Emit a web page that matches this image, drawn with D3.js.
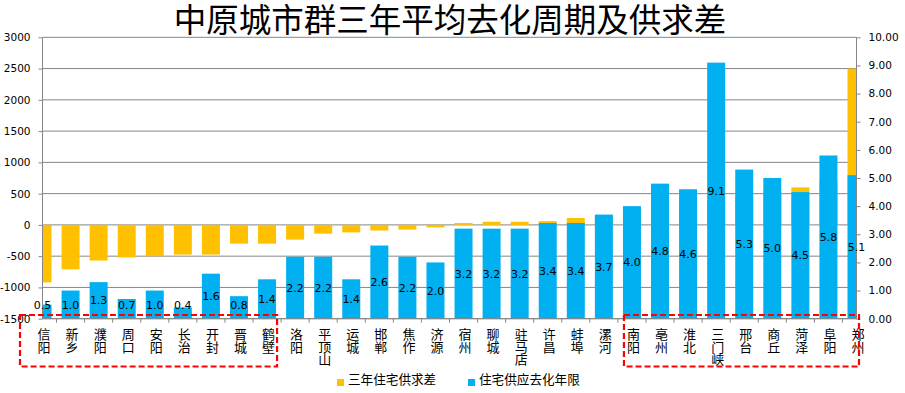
<!DOCTYPE html>
<html>
<head>
<meta charset="utf-8">
<script src="https://cdn.jsdelivr.net/npm/d3@7"></script>
<style>
  body { margin: 0; background: #fff; }
  text { font-family: "DejaVu Sans", sans-serif; }
  .cjk { font-family: "Noto Sans CJK SC", sans-serif; }
</style>
</head>
<body>
<script>
// 城市（按三年住宅供求差排序）
var cities = ["信阳", "新乡", "濮阳", "周口", "安阳", "长治", "开封", "晋城", "鹤壁", "洛阳",
    "平顶山", "运城", "邯郸", "焦作", "济源", "宿州", "聊城", "驻马店", "许昌", "蚌埠",
    "漯河", "南阳", "亳州", "淮北", "三门峡", "邢台", "商丘", "菏泽", "阜阳", "郑州"];

// 三年住宅供求差（左轴）
var gapValues = [-920, -710, -570, -520, -500, -475, -475, -300, -300, -235,
    -140, -120, -90, -75, -40, 30, 50, 50, 60, 110,
    140, 200, 260, 320, 380, 450, 520, 600, 700, 2500];

// 住宅供应去化年限（右轴）
var yearValues = [0.5, 1.0, 1.3, 0.7, 1.0, 0.4, 1.6, 0.8, 1.4, 2.2,
    2.2, 1.4, 2.6, 2.2, 2.0, 3.2, 3.2, 3.2, 3.4, 3.4,
    3.7, 4.0, 4.8, 4.6, 9.1, 5.3, 5.0, 4.5, 5.8, 5.1];

var leftTicks = [-1500, -1000, -500, 0, 500, 1000, 1500, 2000, 2500, 3000];
var rightTicks = [0, 1, 2, 3, 4, 5, 6, 7, 8, 9, 10];

var title = "中原城市群三年平均去化周期及供求差";
var legendNames = ["三年住宅供求差", "住宅供应去化年限"];

var orange = "#FFC000";
var blue = "#00B0F0";
var gridColor = "#868686";

var width = 905;
var height = 393;
var plotL = 42.5, plotR = 856.5, plotT = 37.3, plotB = 318.7;

var svg = d3.select("body")
    .append("svg")
    .attr("width", width)
    .attr("height", height);

var x = d3.scalePoint()
    .domain(cities)
    .range([plotL, plotR]);

var yLeft = d3.scaleLinear()
    .domain([-1500, 3000])
    .range([plotB, plotT]);

var yRight = d3.scaleLinear()
    .domain([0, 10])
    .range([plotB, plotT]);

var barWidth = 18;

// title
svg.append("text")
    .attr("class", "cjk")
    .attr("x", 450)
    .attr("y", 32)
    .attr("text-anchor", "middle")
    .style("font-size", "32.5px")
    .text(title);

// gridlines
svg.append("g")
    .selectAll("line")
    .data(leftTicks)
    .enter()
    .append("line")
    .attr("x1", plotL)
    .attr("x2", plotR)
    .attr("y1", function(d) { return yLeft(d); })
    .attr("y2", function(d) { return yLeft(d); })
    .attr("stroke", gridColor)
    .attr("stroke-width", 1);

svg.append("clipPath")
    .attr("id", "plotclip")
    .append("rect")
    .attr("x", plotL)
    .attr("y", plotT - 2)
    .attr("width", plotR - plotL)
    .attr("height", plotB - plotT + 2);

var bars = svg.append("g").attr("clip-path", "url(#plotclip)");

// orange bars (left axis)
bars.append("g")
    .selectAll("rect")
    .data(cities)
    .enter()
    .append("rect")
    .attr("x", function(d) { return x(d) - barWidth / 2; })
    .attr("width", barWidth)
    .attr("y", function(d, i) { return Math.min(yLeft(0), yLeft(gapValues[i])); })
    .attr("height", function(d, i) { return Math.abs(yLeft(gapValues[i]) - yLeft(0)); })
    .attr("fill", orange);

// blue bars (right axis), drawn on top
bars.append("g")
    .selectAll("rect")
    .data(cities)
    .enter()
    .append("rect")
    .attr("x", function(d) { return x(d) - barWidth / 2; })
    .attr("width", barWidth)
    .attr("y", function(d, i) { return yRight(yearValues[i]); })
    .attr("height", function(d, i) { return plotB - yRight(yearValues[i]); })
    .attr("fill", blue);

// left axis (plain hyphen for negatives, like the original)
var axL = d3.axisLeft(yLeft).tickValues(leftTicks).tickSize(4).tickPadding(8)
    .tickFormat(function(d) { return String(d); });
var gL = svg.append("g").attr("transform", "translate(" + plotL + ",0)").call(axL);
gL.select(".domain").attr("stroke", gridColor).attr("d", "M0," + plotB + "V" + plotT);
gL.selectAll(".tick line").attr("stroke", gridColor);
gL.selectAll(".tick text")
    .style("font-family", "DejaVu Sans, sans-serif")
    .style("font-size", "10.5px")
    .attr("fill", "#000");

// right axis
var axR = d3.axisRight(yRight).tickValues(rightTicks).tickSize(4).tickPadding(8)
    .tickFormat(d3.format(".2f"));
var gR = svg.append("g").attr("transform", "translate(" + plotR + ",0)").call(axR);
gR.select(".domain").attr("stroke", gridColor).attr("d", "M0," + plotB + "V" + plotT);
gR.selectAll(".tick line").attr("stroke", gridColor);
gR.selectAll(".tick text")
    .style("font-family", "DejaVu Sans, sans-serif")
    .style("font-size", "10.5px")
    .attr("fill", "#000");

// category axis: baseline and ticks between categories
var step = x.step();
svg.append("line")
    .attr("x1", plotL).attr("x2", plotR)
    .attr("y1", plotB).attr("y2", plotB)
    .attr("stroke", gridColor);
svg.append("g")
    .selectAll("line")
    .data(cities.slice(0, -1))
    .enter()
    .append("line")
    .attr("x1", function(d) { return x(d) + step / 2; })
    .attr("x2", function(d) { return x(d) + step / 2; })
    .attr("y1", plotB)
    .attr("y2", plotB + 4)
    .attr("stroke", gridColor);

// vertical category labels, one character per line
var catLabels = svg.append("g")
    .selectAll("text")
    .data(cities)
    .enter()
    .append("text")
    .attr("class", "cjk")
    .style("font-size", "13px")
    .attr("fill", "#000")
    .attr("text-anchor", "middle");
catLabels.each(function(d) {
    var t = d3.select(this);
    d.split("").forEach(function(ch, j) {
        t.append("tspan")
            .attr("x", x(d) + 1.5)
            .attr("y", 339 + j * 12.6)
            .text(ch);
    });
});

// value labels on blue bars
svg.append("g")
    .selectAll("text")
    .data(cities)
    .enter()
    .append("text")
    .attr("x", function(d) { return x(d); })
    .attr("y", function(d, i) {
        var mid = (yRight(yearValues[i]) + plotB) / 2;
        return Math.min(mid, 305);
    })
    .attr("dy", "0.36em")
    .attr("text-anchor", "middle")
    .style("font-size", "11px")
    .attr("fill", "#000")
    .text(function(d, i) { return d3.format(".1f")(yearValues[i]); });

// red dashed annotation boxes (first and last nine cities)
var groups = [[cities[0], cities[8]], [cities[21], cities[29]]];
svg.append("g")
    .selectAll("rect")
    .data(groups)
    .enter()
    .append("rect")
    .attr("x", function(d, i) { return x(d[0]) - (i === 0 ? 22.5 : 8); })
    .attr("width", function(d, i) { return x(d[1]) - x(d[0]) + (i === 0 ? 32.5 : 10.5); })
    .attr("y", 315)
    .attr("height", 51.5)
    .attr("fill", "none")
    .attr("stroke", "#FF0000")
    .attr("stroke-width", 2.2)
    .attr("stroke-dasharray", "6,3");

// legend
var legend = svg.append("g")
    .selectAll("g")
    .data(legendNames)
    .enter()
    .append("g")
    .attr("transform", function(d, i) { return "translate(" + (i === 0 ? 337 : 468) + ",0)"; });
legend.append("rect")
    .attr("x", 0)
    .attr("y", 379)
    .attr("width", 7)
    .attr("height", 7)
    .attr("fill", function(d, i) { return i === 0 ? orange : blue; });
legend.append("text")
    .attr("class", "cjk")
    .attr("x", 11)
    .attr("y", 384)
    .style("font-size", "12.6px")
    .text(function(d) { return d; });
</script>
</body>
</html>
